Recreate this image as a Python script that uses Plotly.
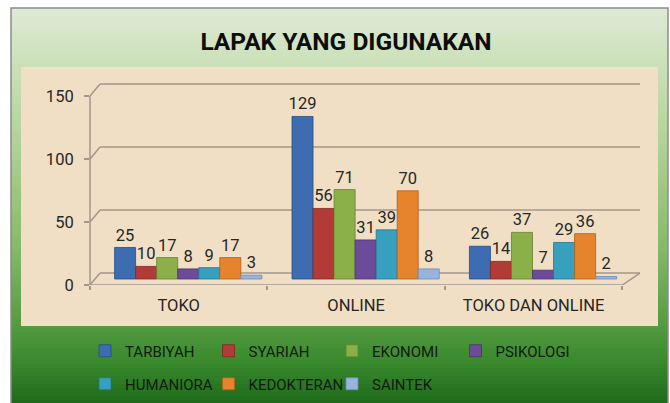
import plotly.graph_objects as go

# ---------------- data ----------------
categories = ["TOKO", "ONLINE", "TOKO DAN ONLINE"]
series_names = ["TARBIYAH", "SYARIAH", "EKONOMI", "PSIKOLOGI",
                "HUMANIORA", "KEDOKTERAN", "SAINTEK"]
tarbiyah = [25, 129, 26]
syariah = [10, 56, 14]
ekonomi = [17, 71, 37]
psikologi = [8, 31, 7]
humaniora = [9, 39, 29]
kedokteran = [17, 70, 36]
saintek = [3, 8, 2]
y_ticks = [0, 50, 100, 150]
title_text = "LAPAK YANG DIGUNAKAN"

series_values = [tarbiyah, syariah, ekonomi, psikologi, humaniora, kedokteran, saintek]
colors = ["#3d6db0", "#b23b37", "#8bb04a", "#6c4b98", "#37a0be", "#e6832d", "#97b4de"]
edge_colors = ["#284d82", "#822825", "#64822f", "#4b3470", "#24758c", "#b05f1c", "#6d8bb8"]

# ---------------- geometry (pixels) ----------------
W, H = 670, 403
L, R, T, B = 90, 640, 83, 285          # plot area
S = 63 / 50.0                           # pixels per unit
DEPTH_X, DEPTH_Y = 10, 12               # 3-D wall offset
X_END = 2.5                             # last category boundary (front floor edge)
FONT = "Roboto, Lato, Liberation Sans, sans-serif"


def px(X):
    return (X - L) / (R - L)


def py(Y):
    return (B - Y) / (B - T)


def hexmix(c1, c2, t):
    a = [int(c1[i:i + 2], 16) for i in (1, 3, 5)]
    b = [int(c2[i:i + 2], 16) for i in (1, 3, 5)]
    return "#%02x%02x%02x" % tuple(round(a[k] + (b[k] - a[k]) * t) for k in range(3))


stops = [(8, "#dfead5"), (65, "#cbe0b8"), (150, "#afd094"), (250, "#85b868"),
         (326, "#549a40"), (360, "#3b8a2e"), (404, "#1d6a1a")]


def grad(Y):
    for (y0, c0), (y1, c1) in zip(stops[:-1], stops[1:]):
        if y0 <= Y <= y1:
            return hexmix(c0, c1, (Y - y0) / (y1 - y0))
    return stops[-1][1]


axis_col = "#a2968c"
line_style = dict(color=axis_col, width=1.5)
shapes = []
step = 4
Y = 8
while Y < 404:
    shapes.append(dict(type="rect", xref="paper", yref="paper", layer="below",
                       x0=px(11), x1=px(668), y0=py(Y), y1=py(min(Y + step, 404) + 0.5),
                       fillcolor=grad(Y + step / 2), line=dict(width=0)))
    Y += step
# beige plot panel
shapes.append(dict(type="rect", xref="paper", yref="paper", layer="below",
                   x0=px(21), x1=px(658), y0=py(67), y1=py(326),
                   fillcolor="#f1dfc5", line=dict(width=0)))
# 3-D back-wall gridlines and side-wall diagonals
for v in y_ticks:
    shapes.append(dict(type="line", xref="paper", yref="y2", layer="below",
                       x0=px(L + DEPTH_X), x1=1, y0=v, y1=v, line=line_style))
    shapes.append(dict(type="line", xref="paper", yref="y", layer="below",
                       x0=0, x1=px(L + DEPTH_X), y0=v, y1=v + DEPTH_Y / S,
                       line=line_style))
# front value axis
shapes.append(dict(type="line", xref="paper", yref="y", layer="below",
                   x0=0, x1=0, y0=0, y1=max(y_ticks), line=line_style))
# front floor edge and its right-hand diagonal
shapes.append(dict(type="line", xref="x", yref="y", layer="below",
                   x0=-0.5, x1=X_END, y0=0, y1=0, line=line_style))
shapes.append(dict(type="line", xref="x", yref="y", layer="below",
                   x0=X_END, x1=2.6, y0=0, y1=DEPTH_Y / S, line=line_style))
# outer frame
shapes.append(dict(type="rect", xref="paper", yref="paper", layer="above",
                   x0=px(11), x1=px(668), y0=py(8), y1=py(410),
                   fillcolor="rgba(0,0,0,0)", line=dict(color="#8c8c8c", width=1.5)))

fig = go.Figure()

# invisible helper traces so the label / grid axes are populated
fig.add_trace(go.Scatter(x=categories, y=[0, 0, 0], xaxis="x", yaxis="y",
                         mode="markers", marker=dict(opacity=0), showlegend=False,
                         hoverinfo="skip"))
fig.add_trace(go.Scatter(x=categories, y=[0, 0, 0], xaxis="x", yaxis="y2",
                         mode="markers", marker=dict(opacity=0), showlegend=False,
                         hoverinfo="skip"))

for i, (name, vals) in enumerate(zip(series_names, series_values)):
    fig.add_trace(go.Bar(
        x=categories, y=vals, name=name, xaxis="x2", yaxis="y3",
        marker=dict(color=colors[i], line=dict(color=edge_colors[i], width=0.8)),
        text=[str(v) for v in vals], textposition="outside",
        textfont=dict(family=FONT, size=16.5, color="#262626"),
        constraintext="none", cliponaxis=False,
        legend="legend" if i < 4 else "legend2",
    ))

bar_shift = 9.5 / ((R - L) / 3.1)
legend_x = px(85)
legend_common = dict(orientation="h", x=legend_x, xanchor="left", yanchor="middle",
                     entrywidth=78.5, entrywidthmode="pixels", bgcolor="rgba(0,0,0,0)",
                     font=dict(family=FONT, size=15, color="#111a11"),
                     traceorder="normal")

fig.update_layout(
    width=W, height=H,
    margin=dict(l=L, r=W - R, t=T, b=H - B, autoexpand=False),
    paper_bgcolor="white", plot_bgcolor="rgba(0,0,0,0)",
    shapes=shapes,
    barmode="group", bargap=0.17, bargroupgap=0,
    font=dict(family=FONT, color="#262626"),
    title=dict(text=title_text, x=346 / W, xref="container", xanchor="center",
               y=1 - 41 / H, yref="container", yanchor="middle",
               font=dict(family=FONT, size=24.5, color="#0d0d0d", weight="bold")),
    xaxis=dict(type="category", categoryorder="array", categoryarray=categories,
               range=[-0.5, 2.6], showline=False,
               ticks="outside", tickson="boundaries", ticklen=4, tickcolor=axis_col,
               tickwidth=1.5,
               tickfont=dict(family=FONT, size=16.5, color="#262626"),
               ticklabelstandoff=8, showgrid=False, fixedrange=True),
    xaxis2=dict(type="category", categoryorder="array", categoryarray=categories,
                overlaying="x", range=[-0.5 - bar_shift, 2.6 - bar_shift],
                visible=False, showgrid=False),
    yaxis=dict(range=[0, (B - T) / S], tickvals=y_ticks, showgrid=False,
               zeroline=False, showline=False,
               ticks="outside", ticklen=5, tickcolor=axis_col, tickwidth=1.5,
               tickfont=dict(family=FONT, size=16.5, color="#262626"),
               ticklabelstandoff=7, fixedrange=True),
    yaxis2=dict(overlaying="y", range=[-DEPTH_Y / S, (B - DEPTH_Y - T) / S],
                tickvals=y_ticks, showgrid=False,
                showticklabels=False, zeroline=False, showline=False, ticks=""),
    yaxis3=dict(overlaying="y", range=[-6 / S, (B - 6 - T) / S],
                visible=False, showgrid=False, zeroline=False),
    legend=dict(legend_common, y=py(351)),
    legend2=dict(legend_common, y=py(384)),
)

# remove the browser's default 8px page margin so the figure sits at (0, 0)
fig.write_html("out.html", config={"displayModeBar": False},
               post_script="document.body.style.margin='0';")
